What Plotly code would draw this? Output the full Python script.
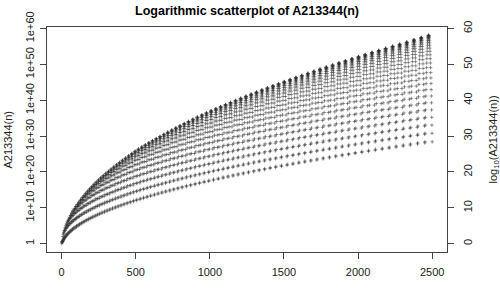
import numpy as np
import plotly.graph_objects as go

chart_title = "Logarithmic scatterplot of A213344(n)"
left_title = "A213344(n)"
right_title = "log<sub>10</sub>(A213344(n))"

# Triangle read by rows: row m (m = 0..98) holds floor(m/2)+1 terms -> 2500 terms.
row_count = 99
# log10 of the largest and smallest term of a row at sample rows
anchor_m = [0, 4, 8, 12, 16, 20, 25, 30, 35, 40, 44, 50, 55, 60, 65, 70, 75, 80, 85, 90, 95, 98]
row_top = [0, 2.0, 4.4, 6.8, 9.2, 11.6, 14.7, 17.8, 20.8, 23.9, 26.4, 29.9, 32.9, 35.9,
           38.8, 41.7, 44.6, 47.5, 50.4, 53.3, 56.2, 58.1]
row_bottom = [0, 0.8, 1.85, 2.97, 4.1, 5.27, 6.73, 8.19, 9.66, 11.14, 12.33, 14.1, 15.59,
              17.07, 18.56, 20.05, 21.54, 23.03, 24.52, 26.02, 27.5, 28.4]

x_ticks = [0, 500, 1000, 1500, 2000, 2500]
y_ticks = [0, 10, 20, 30, 40, 50, 60]
y_left_labels = ["1", "1e+10", "1e+20", "1e+30", "1e+40", "1e+50", "1e+60"]
y_right_labels = ["0", "10", "20", "30", "40", "50", "60"]

rows = np.arange(row_count)
tops = np.interp(rows, anchor_m, row_top)
bots = np.interp(rows, anchor_m, row_bottom)
logs = []
for m in rows:
    L = m // 2 + 1
    if L == 1:
        logs.append(tops[m])
        continue
    j = np.arange(L)
    c = (L - 1) / 2
    frac = ((j - c) / c) ** 2
    logs.extend(tops[m] - (tops[m] - bots[m]) * frac)
logs = np.array(logs)
n = np.arange(1, len(logs) + 1)

N = len(logs)
xr = [1 - 0.04 * (N - 1), N + 0.04 * (N - 1)]
ymax = logs.max()
yr = [0 - 0.04 * ymax, ymax + 0.04 * ymax]

font = "Liberation Sans, Arial, Helvetica, sans-serif"
fig = go.Figure()
fig.add_trace(go.Scatter(
    x=n, y=logs, mode="markers",
    marker=dict(symbol="cross-thin", size=2.6, color="#444",
                line=dict(width=0.7, color="rgba(45,45,45,0.7)")),
    hoverinfo="skip", showlegend=False))
fig.add_trace(go.Scatter(x=[n[0]], y=[logs[0]], yaxis="y2", mode="markers",
                         marker=dict(opacity=0), hoverinfo="skip", showlegend=False))

axis_common = dict(showgrid=False, zeroline=False, showline=True, linecolor="#444",
                   linewidth=1, ticks="outside", ticklen=6, tickcolor="#444",
                   tickfont=dict(family=font, size=11, color="#222"))
fig.update_layout(
    width=500, height=290,
    margin=dict(l=47, r=53, t=19, b=24),
    paper_bgcolor="white", plot_bgcolor="white",
    title=dict(text="<b>" + chart_title + "</b>", x=0.494, xanchor="center",
               y=0.965, yanchor="middle", font=dict(family=font, size=12.5, color="black")),
    xaxis=dict(range=xr, tickvals=x_ticks, ticktext=[str(v) for v in x_ticks],
               mirror=True, ticklabelstandoff=4, **axis_common),
    yaxis=dict(range=yr, tickvals=y_ticks, ticktext=y_left_labels, tickangle=-90,
               ticklabelstandoff=2, **axis_common),
    yaxis2=dict(range=yr, tickvals=y_ticks, ticktext=y_right_labels, tickangle=-90,
                overlaying="y", side="right", ticklabelstandoff=5, **axis_common),
    annotations=[
        dict(text=left_title, xref="paper", yref="paper", x=-0.1, y=0.5,
             xanchor="center", yanchor="middle", textangle=-90, showarrow=False,
             font=dict(family=font, size=11, color="#222")),
        dict(text=right_title, xref="paper", yref="paper", x=1.115, y=0.5,
             xanchor="center", yanchor="middle", textangle=-90, showarrow=False,
             font=dict(family=font, size=11, color="#222")),
    ],
)
fig.write_html("out.html")
